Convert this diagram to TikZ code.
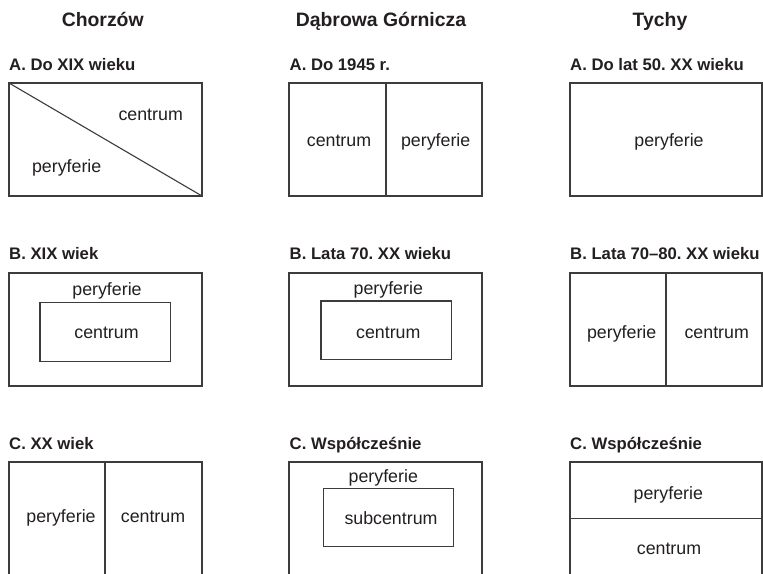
\documentclass[tikz,border=0pt]{standalone}
\usepackage{fontspec}
\setmainfont{Liberation Sans}
\definecolor{ink}{RGB}{35,31,32}
\definecolor{edge}{RGB}{60,60,60}
\frenchspacing
\begin{document}
\begin{tikzpicture}[x=1pt,y=-1pt,
  title/.style={font=\fontsize{19.4}{22}\selectfont\bfseries, text=ink, anchor=base, inner sep=0pt},
  sub/.style={font=\fontsize{16.7}{19}\selectfont\bfseries, text=ink, anchor=base west, inner sep=0pt},
  lbl/.style={font=\fontsize{17.8}{20}\selectfont, text=ink, anchor=base, inner sep=0pt},
  box/.style={draw=edge, line width=1.1pt}]
\clip (0,0) rectangle (763,573);
\fill[white] (0,0) rectangle (763,573);
% titles
\node[title] (t1) at (102.7,26.7) {Chorzów};
\node[title] (t2) at (381,26.7) {Dąbrowa Górnicza};
\node[title] (t3) at (660,26.7) {Tychy};
% subtitles
\node[sub] (s1a) at (9,70.7) {A. Do XIX wieku};
\node[sub] (s1b) at (9,259.3) {B. XIX wiek};
\node[sub] (s1c) at (9,449.3) {C. XX wiek};
\node[sub] (s2a) at (289.5,70.7) {A. Do 1945 r.};
\node[sub] (s2b) at (289.5,259.3) {B. Lata 70. XX wieku};
\node[sub] (s2c) at (289.5,449.3) {C. Współcześnie};
\node[sub] (s3a) at (570,70.7) {A. Do lat 50. XX wieku};
\node[sub] (s3b) at (570,259.3) {B. Lata 70–80. XX wieku};
\node[sub] (s3c) at (570,449.3) {C. Współcześnie};
% Chorzow A
\draw[box] (9,83) rectangle (202,196);
\draw[box] (9,83) -- (202,196);
\node[lbl] (c1a1) at (150.7,120) {centrum};
\node[lbl] (c1a2) at (66.7,172.3) {peryferie};
% Chorzow B
\draw[box] (9,273) rectangle (202,386);
\draw[box] (40,302.7) rectangle (170.7,361.7);
\node[lbl] (c1b1) at (107,295) {peryferie};
\node[lbl] (c1b2) at (106.5,338) {centrum};
% Chorzow C
\draw[box] (9,462) rectangle (202,600);
\draw[box] (105,462) -- (105,600);
\node[lbl] (c1c1) at (61,522.7) {peryferie};
\node[lbl] (c1c2) at (153,522.7) {centrum};
% Dabrowa A
\draw[box] (289,83) rectangle (482,196);
\draw[box] (386,83) -- (386,196);
\node[lbl] (c2a1) at (339,146) {centrum};
\node[lbl] (c2a2) at (435.7,146) {peryferie};
% Dabrowa B
\draw[box] (289,273) rectangle (482,386);
\draw[box] (321,301) rectangle (451.7,359.3);
\node[lbl] (c2b1) at (388.3,294) {peryferie};
\node[lbl] (c2b2) at (388.3,338.3) {centrum};
% Dabrowa C
\draw[box] (289,462) rectangle (482,600);
\draw[box] (323.3,488.3) rectangle (453.3,546.7);
\node[lbl] (c2c1) at (383.3,482) {peryferie};
\node[lbl] (c2c2) at (391,524) {subcentrum};
% Tychy A
\draw[box] (570,83) rectangle (762,196);
\node[lbl] (c3a1) at (669,146) {peryferie};
% Tychy B
\draw[box] (570,273) rectangle (762,386);
\draw[box] (666,273) -- (666,386);
\node[lbl] (c3b1) at (621.7,338.3) {peryferie};
\node[lbl] (c3b2) at (716.7,338.3) {centrum};
% Tychy C
\draw[box] (570,462) rectangle (762,600);
\draw[box] (570,518.3) -- (762,518.3);
\node[lbl] (c3c1) at (668.3,499) {peryferie};
\node[lbl] (c3c2) at (669,554.3) {centrum};
\end{tikzpicture}
\end{document}
